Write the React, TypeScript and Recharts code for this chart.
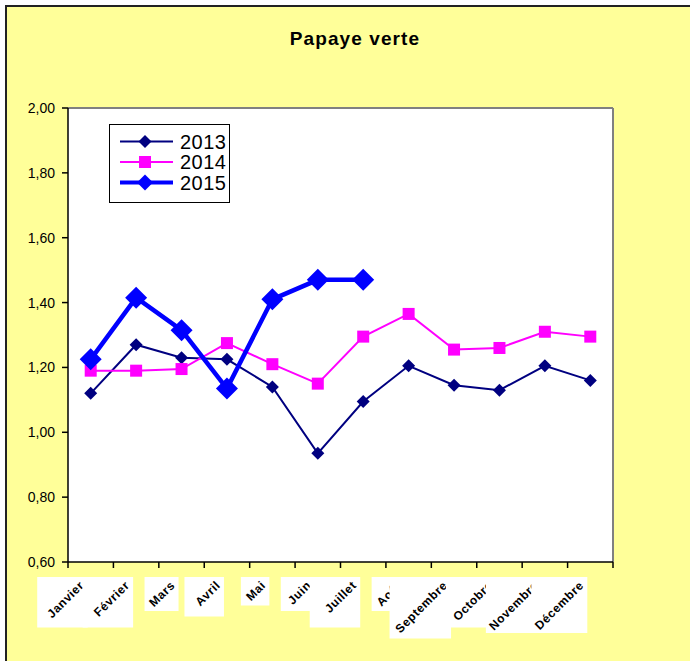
import React from "react";
import {
  CartesianGrid,
  Legend,
  Line,
  LineChart,
  XAxis,
  YAxis,
} from "recharts";

const months = [
  "Janvier",
  "Février",
  "Mars",
  "Avril",
  "Mai",
  "Juin",
  "Juillet",
  "Août",
  "Septembre",
  "Octobre",
  "Novembre",
  "Décembre",
];
const y2013 = [1.12, 1.27, 1.23, 1.225, 1.14, 0.935, 1.095, 1.205, 1.145, 1.13, 1.205, 1.16];
const y2014 = [1.19, 1.19, 1.195, 1.275, 1.21, 1.15, 1.295, 1.365, 1.255, 1.26, 1.31, 1.295];
const y2015 = [1.225, 1.415, 1.315, 1.135, 1.41, 1.47, 1.47, null, null, null, null, null];
const yTicks = [0.6, 0.8, 1.0, 1.2, 1.4, 1.6, 1.8, 2.0];

const data = months.map((m, i) => ({
  month: m,
  a2013: y2013[i],
  a2014: y2014[i],
  a2015: y2015[i],
}));

const W = 690;
const H = 661;
const PLOT_W = 545;
const BAND = PLOT_W / months.length;
const FONT = "'Liberation Sans', Arial, sans-serif";

function diamond(cx: number, cy: number, r: number, fill: string, key?: any) {
  return (
    <polygon
      key={key}
      points={`${cx},${cy - r} ${cx + r},${cy} ${cx},${cy + r} ${cx - r},${cy}`}
      fill={fill}
    />
  );
}

function square(cx: number, cy: number, s: number, fill: string, key?: any) {
  return <rect key={key} x={cx - s / 2} y={cy - s / 2} width={s} height={s} fill={fill} />;
}

const dot13 = (p: any) =>
  p.value == null ? <g key={p.index} /> : diamond(p.cx, p.cy, 6.5, "#000080", p.index);
const dot14 = (p: any) =>
  p.value == null ? <g key={p.index} /> : square(p.cx, p.cy, 12, "#FF00FF", p.index);
const dot15 = (p: any) =>
  p.value == null ? <g key={p.index} /> : diamond(p.cx, p.cy, 11, "#0000FF", p.index);

// month labels: rotated text on a white patch, ticks sit between categories
function MonthTick(props: any) {
  const { x, y, payload, index } = props;
  const label: string = payload.value;
  const size = label.length * 5.5 + 12;
  return (
    <g>
      <line x1={x - BAND / 2} x2={x - BAND / 2} y1={y} y2={y + 6} stroke="#000" strokeWidth={1.5} />
      {index === months.length - 1 && (
        <line x1={x + BAND / 2} x2={x + BAND / 2} y1={y} y2={y + 6} stroke="#000" strokeWidth={1.5} />
      )}
      <rect x={x - 3 - size} y={y + 15} width={size} height={size} fill="#fff" />
      <text
        x={x - 6}
        y={y + 24}
        textAnchor="end"
        transform={`rotate(-45 ${x - 6} ${y + 24})`}
        fontFamily={FONT}
        fontSize={12}
        fontWeight="bold"
        letterSpacing={0.6}
        fill="#000"
      >
        {label}
      </text>
    </g>
  );
}

const legendItems = [
  { name: "2013", color: "#000080", width: 2, marker: "diamond", r: 6.5 },
  { name: "2014", color: "#FF00FF", width: 2, marker: "square", r: 12 },
  { name: "2015", color: "#0000FF", width: 4, marker: "diamond", r: 8 },
];

function LegendBox() {
  return (
    <div
      style={{
        width: 121,
        height: 79,
        boxSizing: "border-box",
        border: "1px solid #000",
        background: "#fff",
      }}
    >
      <svg width={119} height={77} style={{ display: "block" }}>
        {legendItems.map((it, i) => {
          const cy = 16.5 + i * 20.5;
          return (
            <g key={it.name}>
              <line x1={10} x2={63} y1={cy} y2={cy} stroke={it.color} strokeWidth={it.width} />
              {it.marker === "diamond"
                ? diamond(35, cy, it.r, it.color)
                : square(35, cy, it.r, it.color)}
              <text x={70} y={cy + 7} fontFamily={FONT} fontSize={20} letterSpacing={0.5} fill="#000">
                {it.name}
              </text>
            </g>
          );
        })}
      </svg>
    </div>
  );
}

export default function App() {
  return (
    <div style={{ position: "absolute", left: 0, top: 0, width: W, height: H, background: "#fff", overflow: "hidden" }}>
      <div
        style={{
          position: "absolute",
          left: 5,
          top: 5,
          width: W,
          height: H,
          background: "#FFFF99",
          borderLeft: "2px solid #222",
          borderTop: "2px solid #222",
        }}
      />
      <div
        style={{
          position: "absolute",
          left: 0,
          width: W,
          top: 28,
          textAlign: "center",
          paddingLeft: 20,
          boxSizing: "border-box",
          fontFamily: FONT,
          fontWeight: "bold",
          fontSize: 19,
          letterSpacing: 1.1,
          color: "#000",
        }}
      >
        Papaye verte
      </div>
      <div style={{ position: "absolute", left: 0, top: 0 }}>
        <LineChart width={W} height={H} data={data} margin={{ top: 108, right: 77, bottom: 39, left: 0 }}>
          <CartesianGrid
            fill="#fff"
            stroke="#808080"
            strokeWidth={2}
            horizontalCoordinatesGenerator={({ offset }: any) => [offset.top]}
            verticalCoordinatesGenerator={({ offset }: any) => [offset.left + offset.width]}
          />
          <XAxis
            dataKey="month"
            scale="band"
            height={60}
            interval={0}
            tickSize={0}
            tickMargin={0}
            tickLine={false}
            axisLine={{ stroke: "#000", strokeWidth: 1.5 }}
            tick={<MonthTick />}
          />
          <YAxis
            width={68}
            domain={[0.6, 2]}
            ticks={yTicks}
            interval={0}
            tickSize={6}
            tickMargin={7}
            tickLine={{ stroke: "#000", strokeWidth: 1.5 }}
            axisLine={{ stroke: "#000", strokeWidth: 1.5 }}
            tick={{ fill: "#000", fontSize: 14, fontFamily: FONT }}
            tickFormatter={(v: number) => v.toFixed(2).replace(".", ",")}
          />
          <Legend
            layout="vertical"
            align="center"
            verticalAlign="middle"
            wrapperStyle={{ left: 109, top: 124, width: 121, height: 79 }}
            content={() => <LegendBox />}
          />
          <Line
            dataKey="a2013"
            name="2013"
            stroke="#000080"
            strokeWidth={2}
            dot={dot13}
            activeDot={false}
            isAnimationActive={false}
          />
          <Line
            dataKey="a2014"
            name="2014"
            stroke="#FF00FF"
            strokeWidth={2}
            dot={dot14}
            activeDot={false}
            isAnimationActive={false}
          />
          <Line
            dataKey="a2015"
            name="2015"
            stroke="#0000FF"
            strokeWidth={4.5}
            dot={dot15}
            activeDot={false}
            isAnimationActive={false}
          />
        </LineChart>
      </div>
    </div>
  );
}
